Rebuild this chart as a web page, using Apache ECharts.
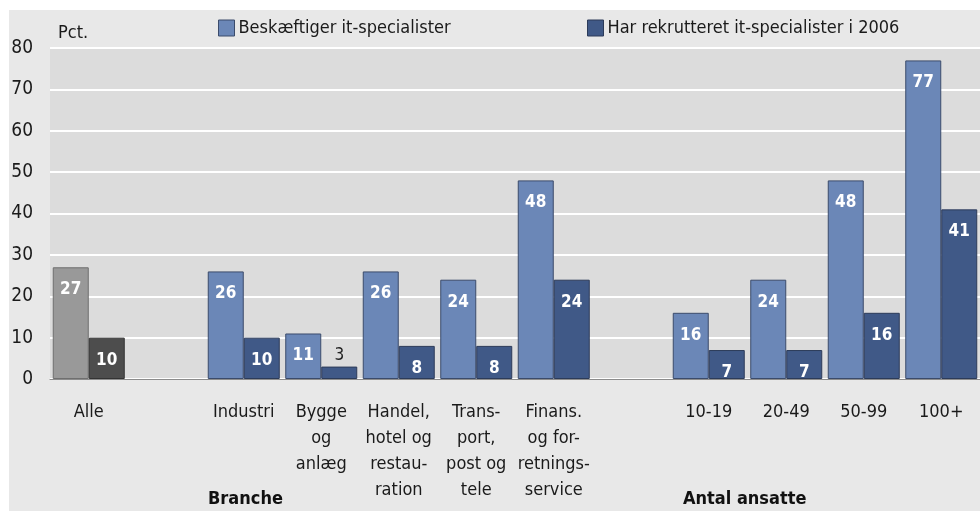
<!DOCTYPE html>
<html>
<head>
    <meta charset="utf-8">
    <title>It-specialister</title>
    <script src="https://cdn.jsdelivr.net/npm/echarts@6/dist/echarts.min.js"></script>
    <style>
        html, body { margin: 0; padding: 0; background: #fff; }
        #main { width: 980px; height: 511px; }
    </style>
</head>
<body>
<div id="main"></div>
<script type="text/javascript">
    var categories = ['Alle', '', 'Industri', 'Bygge\nog\nanlæg', 'Handel,\nhotel og\nrestau-\nration',
        'Trans-\nport,\npost og\ntele', 'Finans.\nog for-\nretnings-\nservice', '',
        '10-19', '20-49', '50-99', '100+'];
    var seriesNames = ['Beskæftiger it-specialister', 'Har rekrutteret it-specialister i 2006'];
    var employs = [27, null, 26, 11, 26, 24, 48, null, 16, 24, 48, 77];
    var recruited = [10, null, 10, 3, 8, 8, 24, null, 7, 7, 16, 41];
    var yTicks = [0, 10, 20, 30, 40, 50, 60, 70, 80];

    var FONT = "'DejaVu Sans Condensed', 'Liberation Sans', sans-serif";
    var lightBlue = '#6b87b7', darkBlue = '#405987';
    var lightGray = '#999999', darkGray = '#4d4d4d';

    var myChart = echarts.init(document.getElementById('main'));

    var makeData = function (values, allColor, allBorder) {
        return values.map(function (v, i) {
            if (v === null) return null;
            var item = { value: v };
            if (i === 0) {
                item.itemStyle = { color: allColor, borderColor: allBorder };
            }
            if (v < 5) {
                // too small for an inside label
                item.label = { position: 'top', distance: 3, color: '#222', fontWeight: 'normal' };
            }
            return item;
        });
    };

    var barLabel = {
        show: true,
        position: 'insideTop',
        distance: 14,
        color: '#fff',
        fontWeight: 'bold',
        fontSize: 17,
        fontFamily: FONT
    };

    var option = {
        backgroundColor: '#ffffff',
        animation: false,
        graphic: [
            { type: 'rect', z: -10, shape: { x: 9, y: 10, width: 971, height: 501 }, style: { fill: '#e8e8e8' } },
            { type: 'text', left: 208, top: 490, style: { text: 'Branche', font: 'bold 18px ' + FONT, fill: '#111' } },
            { type: 'text', left: 683, top: 490, style: { text: 'Antal ansatte', font: 'bold 18px ' + FONT, fill: '#111' } }
        ],
        legend: [
            {
                left: 218, top: 19, padding: 0, itemWidth: 16, itemHeight: 16, icon: 'rect',
                data: [seriesNames[0]],
                itemStyle: { borderColor: '#3b4b6b', borderWidth: 1 },
                textStyle: { fontSize: 18, fontFamily: FONT, color: '#1a1a1a', padding: [0, 0, 0, -1] }
            },
            {
                left: 587, top: 19, padding: 0, itemWidth: 16, itemHeight: 16, icon: 'rect',
                data: [seriesNames[1]],
                itemStyle: { borderColor: '#2c3b59', borderWidth: 1 },
                textStyle: { fontSize: 18, fontFamily: FONT, color: '#1a1a1a', padding: [0, 0, 0, -1] }
            }
        ],
        grid: {
            left: 50, right: -4, top: 48, bottom: 132,
            show: true, backgroundColor: '#dcdcdc', borderWidth: 0
        },
        xAxis: {
            type: 'category',
            data: categories,
            axisTick: { show: false },
            axisLine: { lineStyle: { color: '#8c8c8c', width: 1 } },
            axisLabel: {
                interval: 0,
                margin: 20,
                verticalAlign: 'top',
                lineHeight: 26,
                fontSize: 18,
                fontFamily: FONT,
                color: '#1a1a1a'
            }
        },
        yAxis: {
            type: 'value',
            min: yTicks[0],
            max: yTicks[yTicks.length - 1],
            interval: 10,
            name: 'Pct.',
            nameLocation: 'end',
            nameGap: 6,
            nameTextStyle: { align: 'left', verticalAlign: 'bottom', padding: [0, 0, 0, 8], fontSize: 18, fontFamily: FONT, color: '#1a1a1a' },
            axisLine: { show: false },
            axisTick: { show: false },
            axisLabel: { margin: 17, fontSize: 19, fontFamily: FONT, color: '#1a1a1a' },
            splitLine: { lineStyle: { color: '#ffffff', width: 2 } }
        },
        series: [
            {
                name: seriesNames[0],
                type: 'bar',
                barWidth: 36,
                barGap: '0%',
                data: makeData(employs, lightGray, '#6f6f6f'),
                itemStyle: { color: lightBlue, borderColor: '#3b4b6b', borderWidth: 1 },
                label: barLabel
            },
            {
                name: seriesNames[1],
                type: 'bar',
                barWidth: 36,
                barGap: '0%',
                data: makeData(recruited, darkGray, '#333333'),
                itemStyle: { color: darkBlue, borderColor: '#2c3b59', borderWidth: 1 },
                label: barLabel
            }
        ]
    };
    myChart.setOption(option);
</script>
</body>
</html>
